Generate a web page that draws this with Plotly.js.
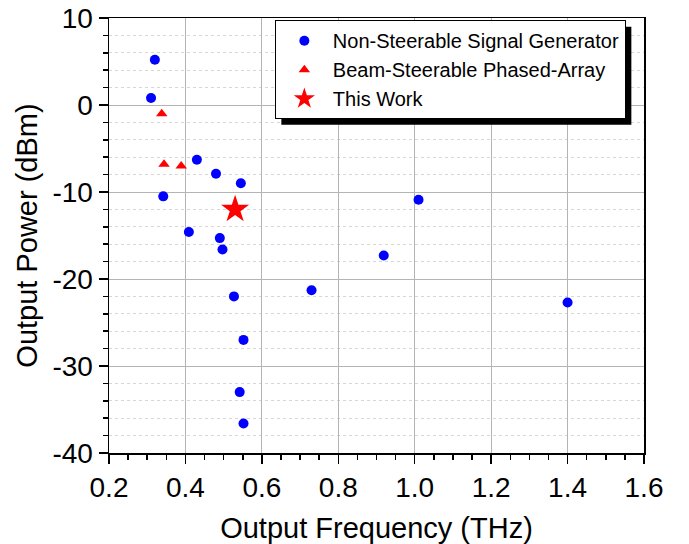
<!DOCTYPE html>
<html>
<head>
<meta charset="utf-8">
<script src="https://cdn.plot.ly/plotly-3.0.1.min.js"></script>
<style>
  html, body { margin: 0; padding: 0; background: #fff; }
  #chart { width: 689px; height: 544px; }
</style>
</head>
<body>
<div id="chart"></div>
<script>
// ---- data ----
const seriesNames = ["Non-Steerable Signal Generator", "Beam-Steerable Phased-Array", "This Work"];

const nonSteerFreq  = [0.32, 0.31, 0.43, 0.48, 0.545, 0.342, 0.409, 0.49, 0.497, 0.919, 1.01, 0.527, 0.73, 0.552, 0.542, 0.552, 1.40];
const nonSteerPower = [5.2, 0.8, -6.3, -7.9, -9.0, -10.5, -14.6, -15.3, -16.6, -17.3, -10.9, -22.0, -21.3, -27.0, -33.0, -36.6, -22.7];

const phasedFreq  = [0.338, 0.344, 0.389];
const phasedPower = [-1.0, -6.8, -7.0];

const thisWorkFreq  = [0.53];
const thisWorkPower = [-12.0];

const xTickVals = [0.2, 0.4, 0.6, 0.8, 1.0, 1.2, 1.4, 1.6];
const xTickText = ["0.2", "0.4", "0.6", "0.8", "1.0", "1.2", "1.4", "1.6"];
const yTickVals = [10, 0, -10, -20, -30, -40];
const yTickText = ["10", "0", "-10", "-20", "-30", "-40"];

const FONT = "Liberation Sans, Arial, Helvetica, sans-serif";

const traces = [
  { x: nonSteerFreq, y: nonSteerPower, name: seriesNames[0], type: "scatter", mode: "markers",
    marker: { symbol: "circle", size: 10, color: "#0000ff" } },
  { x: phasedFreq, y: phasedPower, name: seriesNames[1], type: "scatter", mode: "markers",
    marker: { symbol: "triangle-up", size: 10, color: "#ff0000" } },
  { x: thisWorkFreq, y: thisWorkPower, name: seriesNames[2], type: "scatter", mode: "markers",
    marker: { symbol: "star", size: 21, color: "#ff0000" } }
];

const axisCommon = {
  showline: true, linecolor: "#000", linewidth: 1.5, mirror: true,
  ticks: "outside", ticklen: 9, tickwidth: 1.5, tickcolor: "#000",
  showgrid: true, gridcolor: "#b4b4b4", gridwidth: 1,
  zeroline: false,
  tickfont: { family: FONT, size: 28, color: "#000" }
};

const layout = {
  width: 689, height: 544,
  margin: { l: 109, r: 45, t: 18, b: 91 },
  paper_bgcolor: "#fff", plot_bgcolor: "#fff",
  showlegend: true,
  font: { family: FONT, color: "#000" },
  xaxis: Object.assign({}, axisCommon, {
    range: [0.2, 1.6],
    tickmode: "array", tickvals: xTickVals, ticktext: xTickText,
    minor: { dtick: 0.05, ticks: "outside", ticklen: 5, tickwidth: 1.5, tickcolor: "#000", showgrid: false },
    title: { text: "Output Frequency (THz)", font: { family: FONT, size: 29, color: "#000" }, standoff: 19 }
  }),
  yaxis: Object.assign({}, axisCommon, {
    range: [-40, 10],
    tickmode: "array", tickvals: yTickVals, ticktext: yTickText,
    minor: { dtick: 2, ticks: "outside", ticklen: 5, tickwidth: 1.5, tickcolor: "#000",
             showgrid: true, gridcolor: "#d6d6d6", griddash: "dot", gridwidth: 1 },
    title: { text: "Output Power (dBm)", font: { family: FONT, size: 29, color: "#000" }, standoff: 6 }
  }),
  legend: {
    x: 0.31, y: 0.995, xanchor: "left", yanchor: "top",
    bgcolor: "#fff", bordercolor: "#000", borderwidth: 1,
    font: { family: FONT, size: 20, color: "#000" },
    itemwidth: 47,
    itemsizing: "trace"
  }
};

Plotly.newPlot("chart", traces, layout, { displayModeBar: false, staticPlot: true }).then(function (gd) {
  const bg = gd.querySelector(".legend .bg");
  if (!bg) return;
  const r = bg.getBoundingClientRect();
  const g = gd.getBoundingClientRect();
  const fl = gd._fullLayout;
  const W = fl._size.w, H = fl._size.h, L = fl._size.l, T = fl._size.t;
  const off = 6;
  const px2x = function (px) { return (px - L) / W; };
  const py2y = function (py) { return 1 - (py - T) / H; };
  const left = r.left - g.left, top = r.top - g.top, right = r.right - g.left, bottom = r.bottom - g.top;
  return Plotly.relayout(gd, {
    shapes: [{
      type: "rect", xref: "paper", yref: "paper", layer: "above",
      x0: px2x(left + off), x1: px2x(right + off),
      y0: py2y(bottom + off), y1: py2y(top + off),
      fillcolor: "#000", line: { width: 0 }
    }]
  });
});
</script>
</body>
</html>
